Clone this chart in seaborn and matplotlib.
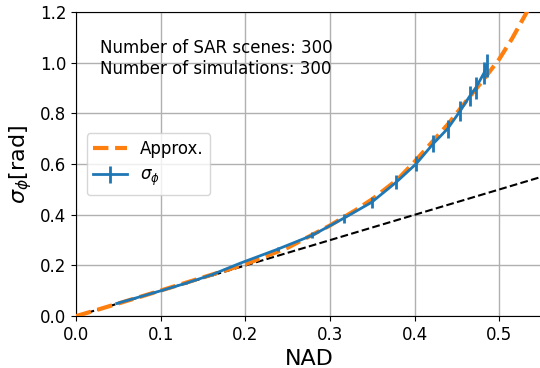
import numpy as np
import pandas as pd
import matplotlib
matplotlib.use("Agg")
import matplotlib.pyplot as plt
import seaborn as sns

plt.rcParams['font.family'] = ['DejaVu Sans']

nad = [0.048, 0.07, 0.10, 0.13, 0.16, 0.194, 0.238, 0.279, 0.316, 0.349,
       0.378, 0.402, 0.422, 0.439, 0.454, 0.465, 0.472, 0.482, 0.485]
sigma = [0.050, 0.071, 0.100, 0.130, 0.163, 0.209, 0.264, 0.319, 0.386, 0.449,
         0.528, 0.602, 0.681, 0.740, 0.811, 0.868, 0.900, 0.960, 0.990]
sigma_err = [0.001, 0.001, 0.002, 0.003, 0.004, 0.005, 0.008, 0.012, 0.018, 0.022,
             0.028, 0.030, 0.033, 0.036, 0.040, 0.040, 0.042, 0.045, 0.045]

# approximation curve
approx_x = [0.0, 0.05, 0.10, 0.15, 0.20, 0.25, 0.30, 0.33, 0.35, 0.38, 0.40,
            0.42, 0.44, 0.46, 0.48, 0.50, 0.515, 0.53, 0.55]
approx_y = [0.0, 0.050, 0.101, 0.153, 0.205, 0.270, 0.358, 0.418, 0.462, 0.540, 0.610,
            0.685, 0.760, 0.845, 0.928, 1.015, 1.095, 1.185, 1.310]

# reference line sigma = NAD
ref_x = [0.0, 0.55]
ref_y = [0.0, 0.55]

fig = plt.figure(figsize=(5.4, 3.68), dpi=100)
ax = fig.add_axes([0.141, 0.141, 0.862, 0.826])

df_ap = pd.DataFrame({"x": approx_x, "y": approx_y})
df_ref = pd.DataFrame({"x": ref_x, "y": ref_y})

sns.lineplot(data=df_ap, x="x", y="y", ax=ax, color="#ff7f0e", lw=3,
             linestyle="--", label="Approx.", zorder=3)
sns.lineplot(data=df_ref, x="x", y="y", ax=ax, color="k", lw=1.5,
             linestyle="--", zorder=2)
ax.errorbar(nad, sigma, yerr=sigma_err, color="#1f77b4", lw=2, elinewidth=2,
            label=r"$\sigma_\phi$", zorder=4)

ax.set_xlim(0, 0.55)
ax.set_ylim(0, 1.2)
ax.set_xticks([0.0, 0.1, 0.2, 0.3, 0.4, 0.5])
ax.set_yticks([0.0, 0.2, 0.4, 0.6, 0.8, 1.0, 1.2])
ax.grid(True, color="#b0b0b0", lw=1)
ax.set_axisbelow(True)
ax.tick_params(labelsize=12)
ax.set_xlabel("NAD", fontsize=16)
ax.set_ylabel(r"$\sigma_\phi$[rad]", fontsize=16)

ax.text(0.028, 1.095, "Number of SAR scenes: 300\nNumber of simulations: 300",
        fontsize=12, va="top", ha="left")
ax.legend(loc="center left", fontsize=12, bbox_to_anchor=(0.005, 0.5))

fig.savefig("out.png", dpi=100)
